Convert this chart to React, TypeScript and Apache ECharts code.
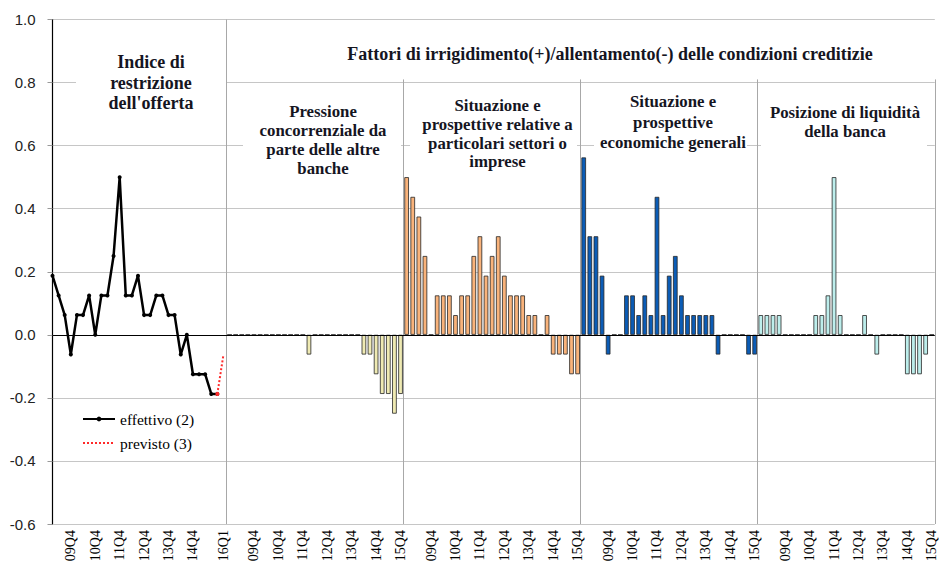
import React, { useEffect, useRef } from "react";
import * as echarts from "echarts";

// ---- categories ----
const PANEL = 29; // slots per panel
const lineQuarters = [
  "09Q1","09Q2","09Q3","09Q4","10Q1","10Q2","10Q3","10Q4","11Q1","11Q2","11Q3","11Q4",
  "12Q1","12Q2","12Q3","12Q4","13Q1","13Q2","13Q3","13Q4","14Q1","14Q2","14Q3","14Q4",
  "15Q1","15Q2","15Q3","15Q4","16Q1",
];
const barQuarters = [
  "08Q4","09Q1","09Q2","09Q3","09Q4","10Q1","10Q2","10Q3","10Q4","11Q1","11Q2","11Q3",
  "11Q4","12Q1","12Q2","12Q3","12Q4","13Q1","13Q2","13Q3","13Q4","14Q1","14Q2","14Q3",
  "14Q4","15Q1","15Q2","15Q3","15Q4",
];
const lineTickLabels = ["09Q4", "10Q4", "11Q4", "12Q4", "13Q4", "14Q4", "16Q1"];
const barTickLabels = ["09Q4", "10Q4", "11Q4", "12Q4", "13Q4", "14Q4", "15Q4"];
const yTicks = { min: -0.6, max: 1.0, step: 0.2 };

// ---- series values ----
const effettivo = [
  0.1875, 0.125, 0.0625, -0.0625, 0.0625, 0.0625, 0.125, 0, 0.125, 0.125, 0.25, 0.5,
  0.125, 0.125, 0.1875, 0.0625, 0.0625, 0.125, 0.125, 0.0625, 0.0625, -0.0625, 0,
  -0.125, -0.125, -0.125, -0.1875, -0.1875,
];
const previsto16Q1 = -0.0625;

const pressione = [
  0, 0, 0, 0, 0, 0, 0, 0, 0, 0, 0, 0, 0, -0.0625, 0, 0, 0, 0, 0, 0, 0, 0,
  -0.0625, -0.0625, -0.125, -0.1875, -0.1875, -0.25, -0.1875,
];
const settori = [
  0.5, 0.4375, 0.375, 0.25, 0, 0.125, 0.125, 0.125, 0.0625, 0.125, 0.125, 0.25, 0.3125,
  0.1875, 0.25, 0.3125, 0.1875, 0.125, 0.125, 0.125, 0.0625, 0.0625, 0, 0.0625,
  -0.0625, -0.0625, -0.0625, -0.125, -0.125,
];
const economia = [
  0.5625, 0.3125, 0.3125, 0.1875, -0.0625, 0, 0, 0.125, 0.125, 0.0625, 0.125, 0.0625,
  0.4375, 0.0625, 0.1875, 0.25, 0.125, 0.0625, 0.0625, 0.0625, 0.0625, 0.0625, -0.0625,
  0, 0, 0, 0, -0.0625, -0.0625,
];
const liquidita = [
  0.0625, 0.0625, 0.0625, 0.0625, 0, 0, 0, 0, 0, 0.0625, 0.0625, 0.125, 0.5, 0.0625,
  0, 0, 0, 0.0625, 0, -0.0625, 0, 0, 0, 0, -0.125, -0.125, -0.125, -0.0625, 0,
];

const barPanels = [
  { name: "Pressione concorrenziale", values: pressione, color: "#efeab3" },
  { name: "Settori o imprese", values: settori, color: "#f9b37b" },
  { name: "Economia generale", values: economia, color: "#0b5cb6" },
  { name: "Liquidità", values: liquidita, color: "#bdeeec" },
];

const SERIF = '"Liberation Serif", "Times New Roman", serif';
const SANS = '"Liberation Sans", Arial, sans-serif';

function labelFor(v: number): string {
  if (Math.abs(v - Math.round(v)) > 1e-6) return "";
  const idx = Math.round(v);
  const panel = Math.floor(idx / PANEL);
  const i = idx % PANEL;
  if (panel === 0) {
    const q = lineQuarters[i];
    return lineTickLabels.includes(q) ? q : "";
  }
  if (panel > 4) return "";
  const q = barQuarters[i];
  return barTickLabels.includes(q) ? q : "";
}

export default function App() {
  const ref = useRef<HTMLDivElement>(null);
  useEffect(() => {
    if (!ref.current) return;
    const chart = echarts.init(ref.current, undefined, { renderer: "svg" });
    const lastIdx = effettivo.length - 1;
    const sepLine = (k: number, top: number) => [
      { coord: [PANEL * k - 0.5, yTicks.min] },
      { coord: [PANEL * k - 0.5, top] },
    ];
    const titleFont = (size: number, lh: number) => ({
      fontFamily: SERIF,
      fontWeight: "bold",
      fontSize: size,
      lineHeight: lh,
      fill: "#15151f",
      align: "center",
      verticalAlign: "top",
    });
    const option: any = {
      animation: false,
      backgroundColor: "#fff",
      grid: { left: 52.5, right: 4.2, top: 19.5, bottom: 41 },
      legend: {
        data: [
          { name: "effettivo (2)" },
          { name: "previsto (3)", itemStyle: { opacity: 0 } },
        ],
        orient: "vertical",
        left: 77,
        top: 406,
        itemWidth: 32,
        itemHeight: 6,
        itemGap: 8,
        textStyle: { fontFamily: SERIF, fontSize: 15.5, color: "#000" },
      },
      xAxis: {
        type: "value",
        min: 0,
        max: PANEL * 5 - 0.5,
        interval: 1,
        axisLine: { show: false },
        axisTick: { show: false },
        splitLine: { show: false },
        axisLabel: {
          rotate: 90,
          margin: 6,
          fontFamily: SERIF,
          fontSize: 14,
          color: "#000",
          showMaxLabel: false,
          formatter: (v: number) => labelFor(v),
        },
      },
      yAxis: {
        type: "value",
        min: yTicks.min,
        max: yTicks.max,
        interval: yTicks.step,
        axisLine: { show: true, lineStyle: { color: "#000", width: 1.2 } },
        axisTick: { show: true, length: 5, lineStyle: { color: "#999" } },
        splitLine: { show: true, lineStyle: { color: "#c6c6c6", width: 1 } },
        axisLabel: {
          margin: 17,
          fontFamily: SANS,
          fontSize: 15,
          color: "#222",
          formatter: (v: number) => (Math.abs(v) < 1e-9 ? "0.0" : v.toFixed(1)),
        },
      },
      series: [
        ...barPanels.map((p, k) => ({
          name: p.name,
          type: "bar",
          barWidth: 4.6,
          barGap: "-100%",
          itemStyle: { color: p.color, borderColor: "#262626", borderWidth: 0.8 },
          data: p.values.map((v, i) => [PANEL * (k + 1) + i, v]),
          z: 3,
          markLine:
            k === 0
              ? {
                  silent: true,
                  symbol: ["none", "none"],
                  label: { show: false },
                  lineStyle: { color: "#a8a8a8", width: 1, type: "solid" },
                  data: [
                    sepLine(1, yTicks.max),
                    sepLine(2, 0.81),
                    sepLine(3, 0.81),
                    sepLine(4, 0.81),
                    sepLine(5, 0.81),
                  ],
                }
              : undefined,
        })),
        {
          name: "effettivo (2)",
          type: "line",
          data: effettivo.map((v, i) => [i, v]),
          symbol: "circle",
          symbolSize: 4,
          lineStyle: { color: "#000", width: 2.5 },
          itemStyle: { color: "#000" },
          z: 5,
          markLine: {
            silent: true,
            symbol: ["none", "none"],
            label: { show: false },
            lineStyle: { color: "#000", width: 1, type: "solid" },
            data: [{ yAxis: 0 }],
          },
        },
        {
          name: "previsto (3)",
          type: "line",
          symbol: "none",
          data: [
            { value: [lastIdx, effettivo[lastIdx]], symbol: "circle", symbolSize: 4 },
            { value: [lastIdx + 1, previsto16Q1] },
          ],
          lineStyle: { color: "#ff2a2a", width: 2, type: "dotted" },
          itemStyle: { color: "#ff2a2a" },
          z: 6,
        },
      ],
      graphic: [
        // white boxes behind titles (hide gridlines)
        { type: "rect", z: 20, shape: { x: 76, y: 50, width: 150, height: 64 }, style: { fill: "#fff" } },
        { type: "rect", z: 20, shape: { x: 243, y: 100, width: 158, height: 78 }, style: { fill: "#fff" } },
        { type: "rect", z: 20, shape: { x: 410, y: 95, width: 167, height: 77 }, style: { fill: "#fff" } },
        { type: "rect", z: 20, shape: { x: 594, y: 91, width: 153, height: 61 }, style: { fill: "#fff" } },
        { type: "rect", z: 20, shape: { x: 761, y: 102, width: 166, height: 48 }, style: { fill: "#fff" } },
        {
          type: "text", z: 21, x: 151, y: 52,
          style: { text: "Indice di\nrestrizione\ndell'offerta", ...titleFont(18, 20.5) },
        },
        {
          type: "text", z: 21, x: 610, y: 43,
          style: {
            text: "Fattori di irrigidimento(+)/allentamento(-) delle condizioni creditizie",
            ...titleFont(18, 21),
          },
        },
        {
          type: "text", z: 21, x: 323, y: 101.5,
          style: { text: "Pressione\nconcorrenziale da\nparte delle altre\nbanche", ...titleFont(16.8, 19.2) },
        },
        {
          type: "text", z: 21, x: 497.5, y: 96.5,
          style: {
            text: "Situazione e\nprospettive relative a\nparticolari settori o\nimprese",
            ...titleFont(16.8, 18.7),
          },
        },
        {
          type: "text", z: 21, x: 673, y: 91.7,
          style: { text: "Situazione e\nprospettive\neconomiche generali", ...titleFont(16.8, 20.3) },
        },
        {
          type: "text", z: 21, x: 845, y: 103.2,
          style: { text: "Posizione di liquidità\ndella banca", ...titleFont(16.8, 19) },
        },
      ],
    };
    chart.setOption(option);
    return () => chart.dispose();
  }, []);
  return (
    <div
      ref={ref}
      style={{ position: "fixed", left: 0, top: 0, width: 939, height: 565, background: "#fff" }}
    />
  );
}
